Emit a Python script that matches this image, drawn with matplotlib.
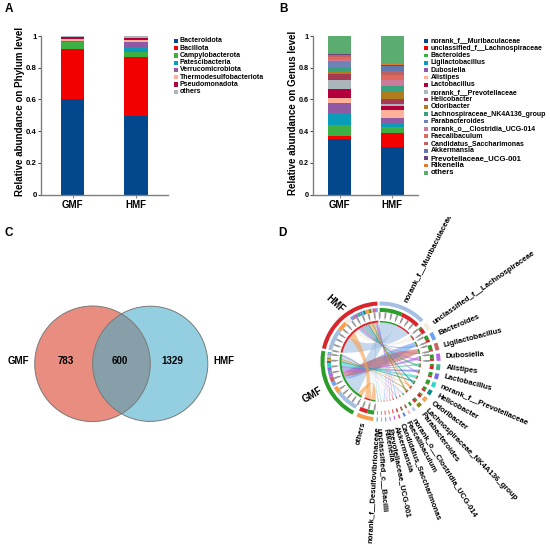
import numpy as np
import matplotlib
matplotlib.use("Agg")
import matplotlib.pyplot as plt
from matplotlib.patches import Circle, Rectangle, Wedge, PathPatch
from matplotlib.path import Path
from matplotlib.transforms import Bbox

plt.rcParams['font.family'] = ['Liberation Sans', 'DejaVu Sans']
plt.rcParams['font.weight'] = 'bold'

samples = ['GMF', 'HMF']

phylum_names = ['Bacteroidota', 'Bacillota', 'Campylobacterota', 'Patescibacteria',
                'Verrucomicrobiota', 'Thermodesulfobacteriota', 'Pseudomonadota', 'others']
phylum_gmf = [0.60, 0.32, 0.04, 0.004, 0.003, 0.012, 0.013, 0.008]
phylum_hmf = [0.494, 0.374, 0.032, 0.029, 0.031, 0.013, 0.012, 0.015]
phylum_colors = ['#03478c', '#f20000', '#3cb043', '#0a9dba', '#8f5aa3', '#ffb199', '#b3003c', '#aab6bb']

genus_names = ['norank_f__Muribaculaceae', 'unclassified_f__Lachnospiraceae', 'Bacteroides',
               'Ligilactobacillus', 'Dubosiella', 'Alistipes', 'Lactobacillus',
               'norank_f__Prevotellaceae', 'Helicobacter', 'Odoribacter',
               'Lachnospiraceae_NK4A136_group', 'Parabacteroides', 'norank_o__Clostridia_UCG-014',
               'Faecalibaculum', 'Candidatus_Saccharimonas', 'Akkermansia',
               'Prevotellaceae_UCG-001', 'Rikenella', 'others']
genus_gmf = [0.349, 0.023, 0.065, 0.080, 0.063, 0.031, 0.053, 0.059, 0.037, 0.022,
             0.023, 0.035, 0.007, 0.023, 0.010, 0.003, 0.005, 0.001, 0.111]
genus_hmf = [0.300, 0.087, 0.042, 0.021, 0.035, 0.049, 0.025, 0.012, 0.034, 0.044,
             0.038, 0.000, 0.036, 0.031, 0.026, 0.033, 0.007, 0.010, 0.170]
genus_colors = ['#03478c', '#f20000', '#3cb043', '#0a9dba', '#8f5aa3', '#ffb199', '#b3003c',
                '#aab6bb', '#a63a52', '#b07d1e', '#3aa17e', '#6e83b8', '#cc7a9a', '#e0685f',
                '#c0605f', '#6078ae', '#6b4480', '#e07a30', '#5aad6e']
genus_sizes = [5.05] * 16 + [5.6, 5.6, 5.6]

venn_labels = ['GMF', 'HMF']
venn_counts = [783, 600, 1329]

chord_names = ['norank_f__Muribaculaceae', 'unclassified_f__Lachnospiraceae', 'Bacteroides',
               'Ligilactobacillus', 'Dubosiella', 'Alistipes', 'Lactobacillus',
               'norank_f__Prevotellaceae', 'Helicobacter', 'Odoribacter',
               'Lachnospiraceae_NK4A136_group', 'Parabacteroides', 'norank_o__Clostridia_UCG-014',
               'Faecalibaculum', 'Candidatus_Saccharimonas', 'Akkermansia',
               'Prevotellaceae_UCG-001', 'Rikenella', 'unclassified_c__Bacilli',
               'norank_f__Desulfovibrionaceae', 'others']
chord_gmf = [0.349, 0.023, 0.065, 0.080, 0.063, 0.031, 0.053, 0.059, 0.037, 0.022,
             0.023, 0.035, 0.007, 0.012, 0.010, 0.003, 0.005, 0.004, 0.006, 0.007, 0.100]
chord_hmf = [0.300, 0.087, 0.042, 0.021, 0.035, 0.049, 0.025, 0.012, 0.034, 0.044,
             0.038, 0.000, 0.018, 0.015, 0.014, 0.012, 0.007, 0.010, 0.005, 0.004, 0.130]
chord_colors = ['#a3c0e2', '#f3ece0', '#6fa3ef', '#c86464', '#b565e6', '#3fb68b', '#7f66ee',
                '#33d6c6', '#0e8a8a', '#f5a04f', '#8a8a1e', '#b0c8ea', '#e8b8c0', '#4a86f0',
                '#e0607a', '#b060e0', '#9f5fd8', '#5a8cf0', '#30c8d0', '#108a90', '#f5a04f']
label_pos = [67.7, 35.9, 25.7, 13.7, 4.2, -5, -13.4, -22, -31.5, -39, -46.8, -51.5, -59.5,
             -66, -71, -77, -82, -86, -91, -92.8, -105]
label_rot = [63, 35, 23, 14.5, 3, -7.6, -14.5, -23, -29, -36.7, -45, -53.7, -57.7, -61.7,
             -69, -72, -78.5, -80, -86, -93.5, -104]
label_rad = [64.6, 65, 65, 65.4, 65.4, 65.8, 65.6, 65, 66, 66, 66.5, 66.2, 66, 65.9, 65.3,
             66.9, 67.5, 67, 66.8, 65.3, 62.4]

W, H = 550, 551
fig = plt.figure(figsize=(W / 100, H / 100), dpi=100, facecolor='white')
overlay = fig.add_axes([0, 0, 1, 1])
overlay.set_xlim(0, W)
overlay.set_ylim(H, 0)
overlay.axis('off')


def stacked(left, right, top, bottom, centers, width, series_a, series_b, colors, ylabel, label_x,
            label_y, tick_size):
    ax = fig.add_axes([left / W, 1 - bottom / H, (right - left) / W, (bottom - top) / H])
    unit = centers[1] - centers[0]
    ax.set_xlim((left - centers[0]) / unit, (right - centers[0]) / unit)
    ax.set_ylim(0, 1)
    bottoms = [0.0, 0.0]
    for a, b, c in zip(series_a, series_b, colors):
        ax.bar([0, 1], [a, b], width / unit, bottom=bottoms, color=c, linewidth=0)
        bottoms = [bottoms[0] + a, bottoms[1] + b]
    for s in ['top', 'right']:
        ax.spines[s].set_visible(False)
    for s in ['left', 'bottom']:
        ax.spines[s].set_color('#7f7f7f')
        ax.spines[s].set_linewidth(1.0)
    ax.set_yticks([0, 0.2, 0.4, 0.6, 0.8, 1])
    ax.set_yticklabels(['0', '0.2', '0.4', '0.6', '0.8', '1'], fontsize=tick_size)
    ax.set_xticks([0, 1])
    ax.set_xticklabels(samples, fontsize=7)
    ax.tick_params(axis='y', length=2, width=0.7, pad=1, color='#444444')
    ax.tick_params(axis='x', length=2, width=0.7, pad=1.5, color='#7f7f7f')
    ax.patch.set_alpha(0)
    overlay.text(label_x, label_y, ylabel, rotation=90, ha='center', va='center', fontsize=7)


stacked(41, 168, 36, 194.7, [72.5, 136], 23, phylum_gmf, phylum_hmf, phylum_colors,
        'Relative abundance on Phylum level', 20, 111.5, 5.7)
stacked(313, 418, 36, 194.7, [339.5, 392], 23, genus_gmf, genus_hmf, genus_colors,
        'Relative abundance on Genus level', 293.5, 113, 5.2)

# legends
for i, (n, c) in enumerate(zip(phylum_names, phylum_colors)):
    y = 41 + i * 7.24
    overlay.add_patch(Rectangle((174, y - 2), 4.2, 4.2, color=c, lw=0))
    overlay.text(180, y, n, fontsize=5.0, va='center', ha='left')
for i, (n, c, s) in enumerate(zip(genus_names, genus_colors, genus_sizes)):
    y = 41 + i * 7.33
    overlay.add_patch(Rectangle((424.3, y - 2), 3.8, 3.8, color=c, lw=0))
    overlay.text(430.7, y, n, fontsize=s, va='center', ha='left')

# panel letters
for t, x, y in [('A', 9, 9), ('B', 283, 9), ('C', 9, 233), ('D', 282, 233)]:
    overlay.text(x, y, t, fontsize=8.5, ha='center', va='center')

# Venn
overlay.add_patch(Circle((92.5, 363.8), 57.8, fc='#e98d80', ec='none'))
overlay.add_patch(Circle((150.2, 363.8), 57.6, fc='#93cfe0', ec='none'))
lens = Circle((150.2, 363.8), 57.6, fc='#869fa9', ec='none', transform=overlay.transData)
overlay.add_patch(lens)
lens.set_clip_path(Circle((92.5, 363.8), 57.8, transform=overlay.transData))
for cx, r in [(92.5, 57.8), (150.2, 57.6)]:
    overlay.add_patch(Circle((cx, 363.8), r, fc='none', ec='#7a7a7a', lw=0.7))
overlay.text(18.7, 360.5, venn_labels[0], fontsize=7, ha='center', va='center')
overlay.text(223.7, 360.5, venn_labels[1], fontsize=7, ha='center', va='center')
for x, v in zip([65.7, 120, 172], venn_counts):
    overlay.text(x, 360.5, str(v), fontsize=7, ha='center', va='center')

# Chord
ax = fig.add_axes([310.5 / W, 1 - 431.5 / H, 140 / W, 140 / H])
ax.set_xlim(-70, 70)
ax.set_ylim(-70, 70)
ax.axis('off')

GROUP_COLORS = {'GMF': '#2a9d2a', 'HMF': '#d9262c'}
SPAN = {'GMF': (242.0, 169.6), 'HMF': (167.2, 93.0)}
START, END = 91.0, -113.7
gmf = np.array(chord_gmf)
hmf = np.array(chord_hmf)
tot = gmf + hmf
scale = 72.0
gap = ((START - END) - tot.sum() * scale) / (len(tot) - 1)


def band(a1, a2, r0, r1, color, alpha=1.0, z=3):
    ax.add_patch(Wedge((0, 0), r1, min(a1, a2), max(a1, a2), width=r1 - r0, fc=color, ec='none', alpha=alpha, zorder=z))


def arc(a1, a2, r, n=12):
    t = np.radians(np.linspace(a1, a2, n))
    return np.c_[r * np.cos(t), r * np.sin(t)]


def ctrl(p, q, r):
    v = p + q
    n = np.hypot(*v)
    if n < 1e-6:
        return (0.0, 0.0)
    return tuple(0.22 * r * v / n)


def ribbon(a1, a2, b1, b2, r, color):
    p1, p2 = arc(a1, a2, r), arc(b1, b2, r)
    verts = [tuple(v) for v in p1]
    codes = [Path.MOVETO] + [Path.LINETO] * (len(p1) - 1)
    verts += [ctrl(p1[-1], p2[0], r), tuple(p2[0])]
    codes += [Path.CURVE3, Path.CURVE3]
    verts += [tuple(v) for v in p2[1:]]
    codes += [Path.LINETO] * (len(p2) - 1)
    verts += [ctrl(p2[-1], p1[0], r), tuple(p1[0])]
    codes += [Path.CURVE3, Path.CURVE3]
    ax.add_patch(PathPatch(Path(verts, codes), fc=color, ec='none', alpha=0.62, zorder=2))


def ticks(a0, a1):
    for a in np.arange(a0, a1, -7.0):
        x0, y0 = np.cos(np.radians(a)), np.sin(np.radians(a))
        ax.plot([42.5 * x0, 44.5 * x0], [42.5 * y0, 44.5 * y0], color='#444444', lw=0.4, zorder=3)
        ax.plot([45 * x0, 48.5 * x0], [45 * y0, 48.5 * y0], color='#999999', lw=1.3, zorder=3)


R_LINK = 39
order_mid = [0, 20] + [i for i in range(len(tot)) if i not in (0, 20)]
order_link = {'GMF': [20, 0] + order_mid[2:], 'HMF': order_mid}

group_pos = {}
for g, vals in [('GMF', gmf), ('HMF', hmf)]:
    a0, a1 = SPAN[g]
    k = (a0 - a1) / vals.sum()
    band(a0, a1, 56, 60, GROUP_COLORS[g])
    band(a0, a1, R_LINK, 41, GROUP_COLORS[g])
    cur = a0
    for i in order_mid:
        band(cur, cur - vals[i] * k, 49.5, 53.5, chord_colors[i])
        cur -= vals[i] * k
    cur = a0
    pos = {}
    for i in order_link[g]:
        pos[i] = (cur, cur - vals[i] * k)
        cur -= vals[i] * k
    group_pos[g] = pos
    ticks(a0, a1)

clip = Bbox([[0, 0], [W, H - 217]])
cur = START
for i, name in enumerate(chord_names):
    w = tot[i] * scale
    band(cur, cur - w, 56, 60, chord_colors[i])
    ag = gmf[i] * scale
    band(cur, cur - ag, 49.5, 53.5, GROUP_COLORS['GMF'])
    band(cur - ag, cur - w, 49.5, 53.5, GROUP_COLORS['HMF'])
    band(cur, cur - ag, R_LINK, 40.5, GROUP_COLORS['GMF'])
    band(cur - ag, cur - w, R_LINK, 40.5, GROUP_COLORS['HMF'])
    b1, b2 = group_pos['GMF'][i]
    ribbon(cur, cur - ag, b1, b2, R_LINK, chord_colors[i])
    b1, b2 = group_pos['HMF'][i]
    ribbon(cur - ag, cur - w, b1, b2, R_LINK, chord_colors[i])
    if w > 6:
        ticks(cur, cur - w)
    la, rot, rad = label_pos[i], label_rot[i], label_rad[i]
    flipped = rot < -90
    t = ax.text(rad * np.cos(np.radians(la)), rad * np.sin(np.radians(la)), name,
                rotation=rot + 180 if flipped else rot, rotation_mode='anchor',
                ha='right' if flipped else 'left', va='center', fontsize=5.6, zorder=5, clip_on=False)
    if i == 0:
        t.set_clip_on(True)
        t.set_clip_box(clip)
    cur -= w + gap

ax.text(-45.5, 58, 'HMF', rotation=-42, ha='center', va='center', fontsize=7, clip_on=False)
ax.text(-68, -34, 'GMF', rotation=30, ha='center', va='center', fontsize=7, clip_on=False)

fig.savefig('out.png', dpi=100, facecolor='white')
